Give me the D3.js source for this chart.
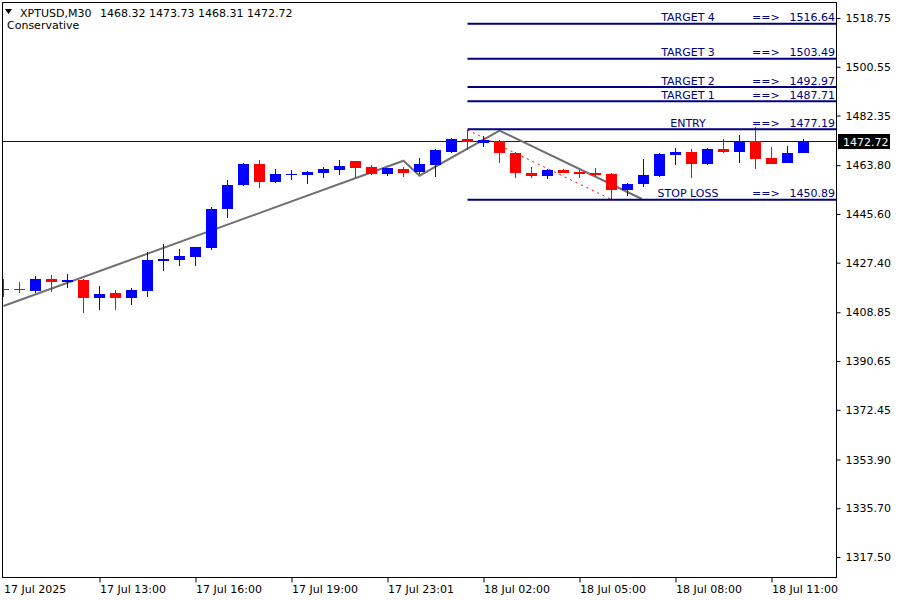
<!DOCTYPE html>
<html><head><meta charset="utf-8">
<script src="https://cdn.jsdelivr.net/npm/d3@7"></script>
<style>
body{margin:0;background:#fff}
svg{display:block}
text{font-family:"DejaVu Sans",sans-serif;font-size:11px}
</style>
</head><body>
<svg id="c" width="900" height="600"></svg>
<script>
// ---------- data ----------
const symbol = "XPTUSD,M30";
const headerValues = "1468.32 1473.73 1468.31 1472.72";
const subtitle = "Conservative";

const opens  = [1417.56,1417.45,1416.81,1421.30,1420.18,1420.92,1414.20,1416.07,1414.20,1416.81,
                1428.02,1428.39,1429.51,1432.87,1447.25,1456.21,1464.24,1457.33,1460.13,1460.13,
                1460.87,1461.99,1465.36,1463.11,1460.50,1462.37,1461.25,1463.86,1468.72,1473.57,
                1472.26,1472.82,1468.16,1460.87,1459.57,1461.99,1461.25,1460.87,1460.50,1454.34,
                1456.58,1459.75,1467.78,1468.72,1464.05,1469.84,1468.72,1472.82,1466.48,1464.42,
                1468.32];
const highs  = [1421.30,1420.18,1422.42,1422.79,1423.16,1421.30,1418.68,1417.19,1417.93,1431.38,
                1434.36,1432.50,1433.30,1448.18,1458.26,1464.61,1465.73,1462.37,1461.99,1461.62,
                1463.11,1465.73,1465.50,1463.86,1462.90,1463.11,1466.48,1469.65,1473.94,1476.93,
                1474.69,1473.20,1468.53,1463.11,1462.18,1462.37,1461.99,1462.74,1460.87,1457.14,
                1466.10,1468.34,1470.21,1469.84,1470.21,1473.57,1475.06,1478.05,1470.58,1470.96,
                1473.73];
const lows   = [1414.57,1416.07,1416.07,1416.44,1417.93,1408.60,1409.72,1409.72,1411.59,1414.57,
                1424.28,1426.15,1426.15,1432.12,1444.07,1456.02,1455.09,1457.14,1458.26,1456.77,
                1459.01,1460.13,1459.01,1460.31,1459.75,1459.38,1460.50,1459.38,1468.34,1469.46,
                1470.58,1464.42,1459.19,1458.82,1458.45,1460.69,1459.19,1459.75,1450.98,1452.10,
                1455.83,1459.38,1463.68,1458.82,1463.86,1468.16,1464.79,1462.18,1464.05,1464.42,
                1468.31];
const closes = [1417.38,1417.00,1421.30,1420.18,1420.92,1414.20,1415.69,1414.20,1417.19,1428.39,
                1428.76,1429.88,1433.24,1447.43,1456.39,1464.24,1457.33,1460.50,1460.50,1461.25,
                1462.37,1463.49,1462.74,1460.50,1462.74,1460.87,1464.24,1469.46,1473.57,1472.45,
                1473.01,1468.16,1460.69,1459.57,1461.99,1460.87,1460.61,1459.94,1454.34,1456.77,
                1460.13,1467.97,1468.72,1464.05,1469.84,1468.72,1472.82,1466.10,1464.24,1468.34,
                1472.72];

const xTickIndex  = [0, 6, 12, 18, 24, 30, 36, 42, 48];
const xTickLabels = ["17 Jul 2025","17 Jul 13:00","17 Jul 16:00","17 Jul 19:00","17 Jul 23:01",
                     "18 Jul 02:00","18 Jul 05:00","18 Jul 08:00","18 Jul 11:00"];
const yTicks = [1518.75,1500.55,1482.35,1463.80,1445.60,1427.40,1408.85,1390.65,1372.45,1353.90,1335.70,1317.50];

const levelNames  = ["TARGET 4","TARGET 3","TARGET 2","TARGET 1","ENTRY","STOP LOSS"];
const levelValues = [1516.64,1503.49,1492.97,1487.71,1477.19,1450.89];
const levelStartIndex = 29;

const zigzagIndex = [0, 25, 26, 31, 39.9];
const zigzagPrice = [1411.21, 1465.47, 1459.87, 1476.74, 1451.17];
const dashIndex = [29, 38];
const dashPrice = [1476.93, 1450.98];
const lastPrice = 1472.72;

// ---------- layout ----------
const L = 2.5, T = 2.5, R = 836.5, B = 577.5;
const svg = d3.select("#c");
const x = d3.scaleLinear().domain([-0.03125, 52.09375]).range([3, 837]);
const y = d3.scaleLinear().domain([1310.02, 1524.35]).range([577, 3]);

svg.append("defs").append("clipPath").attr("id","plot")
  .append("rect").attr("x",3).attr("y",3).attr("width",833).attr("height",574);

const plot = svg.append("g").attr("clip-path","url(#plot)");

// current price line
plot.append("line").attr("x1",3).attr("x2",836)
  .attr("y1",Math.round(y(lastPrice))+0.5).attr("y2",Math.round(y(lastPrice))+0.5)
  .attr("stroke","#0000cc").attr("stroke-width",1);

// zigzag
const zz = zigzagIndex.map((d,i)=>[d, zigzagPrice[i]]);
plot.append("path").attr("d", d3.line().x(d=>x(d[0])).y(d=>y(d[1]))(zz))
  .attr("fill","none").attr("stroke","#707070").attr("stroke-width",2);

// candles
const data = opens.map((o,i)=>({i,o,h:highs[i],l:lows[i],c:closes[i]}));
const cg = plot.append("g").attr("shape-rendering","crispEdges");
data.forEach(d=>{
  const col = d.c >= d.o ? "#0000ff" : "#ff0000";
  const cx = x(d.i);
  const yh = Math.round(y(d.h)), yl = Math.round(y(d.l));
  const yt = Math.round(y(Math.max(d.o,d.c))), yb = Math.round(y(Math.min(d.o,d.c)));
  cg.append("rect").attr("x",cx-0.5).attr("width",1).attr("y",yh).attr("height",Math.max(1,yl-yh)).attr("fill",col);
  cg.append("rect").attr("x",cx-5.5).attr("width",11).attr("y",yt).attr("height",Math.max(1,yb-yt)).attr("fill",col);
});

// red dotted projection
const dd = dashIndex.map((d,i)=>[d, dashPrice[i]]);
plot.append("path").attr("d", d3.line().x(d=>x(d[0])).y(d=>y(d[1]))(dd))
  .attr("fill","none").attr("stroke","#ff0000").attr("stroke-width",1).attr("stroke-dasharray","2,4");

// levels
const lg = svg.append("g");
levelValues.forEach((v,i)=>{
  const ly = y(v);
  lg.append("line").attr("x1",x(levelStartIndex)).attr("x2",836.5).attr("y1",ly).attr("y2",ly)
    .attr("stroke","#000080").attr("stroke-width",2);
  lg.append("text").attr("x",688).attr("y",ly-2.5).attr("text-anchor","middle").attr("fill","#000080").text(levelNames[i]);
  lg.append("text").attr("x",752).attr("y",ly-2.5).attr("fill","#000080").text("==>");
  lg.append("text").attr("x",835).attr("y",ly-2.5).attr("text-anchor","end").attr("fill","#000080").text(v.toFixed(2));
});

// frame
svg.append("rect").attr("x",L).attr("y",T).attr("width",R-L).attr("height",B-T)
  .attr("fill","none").attr("stroke","#000").attr("stroke-width",1);

// right axis
const yAxis = d3.axisRight(y).tickValues(yTicks).tickFormat(d=>d.toFixed(2)).tickSize(4).tickPadding(5);
const ya = svg.append("g").attr("transform",`translate(${R},0)`).call(yAxis);
ya.select(".domain").remove();
ya.selectAll("line").attr("stroke","#000");
ya.selectAll("text").attr("fill","#000").style("font-size","11px").style("font-family","DejaVu Sans");

// bottom axis
const xAxis = d3.axisBottom(x).tickValues(xTickIndex).tickFormat((d,i)=>xTickLabels[i]).tickSize(5).tickPadding(3);
const xa = svg.append("g").attr("transform",`translate(0,${B})`).call(xAxis);
xa.select(".domain").remove();
xa.selectAll("line").attr("stroke","#000");
xa.selectAll("text").attr("text-anchor","start").attr("dx","0").attr("fill","#000")
  .style("font-size","11px").style("font-family","DejaVu Sans");
xa.selectAll(".tick").filter((d,i)=>i===0).select("line").remove();

// current price tag
const py = Math.round(y(lastPrice));
svg.append("rect").attr("x",838).attr("y",py-7).attr("width",52).attr("height",15).attr("fill","#000");
svg.append("text").attr("x",843).attr("y",py+4.5).attr("fill","#fff").text(lastPrice.toFixed(2));

// header
svg.append("path").attr("d","M5,9 L12,9 L8.5,14 Z").attr("fill","#000");
svg.append("text").attr("x",20).attr("y",17).attr("fill","#000").text(symbol);
svg.append("text").attr("x",100).attr("y",17).attr("fill","#000").text(headerValues);
svg.append("text").attr("x",7).attr("y",29).attr("fill","#000").text(subtitle);
</script>
</body></html>
